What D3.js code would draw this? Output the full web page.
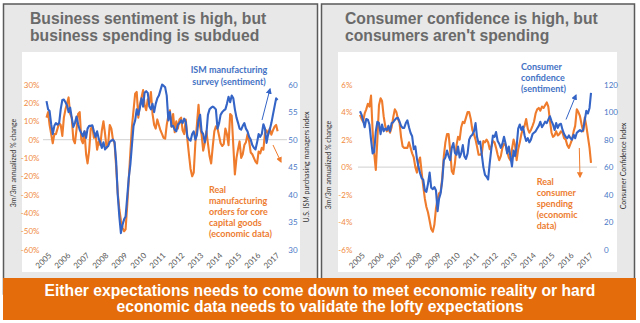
<!DOCTYPE html>
<html>
<head>
<meta charset="utf-8">
<script src="https://cdn.jsdelivr.net/npm/d3@7"></script>
<style>
  body { margin: 0; background: #fff; }
  svg { display: block; }
</style>
</head>
<body>
<div id="vis"></div>
<script>
// ---- data (monthly, Jan 2005 - Mar 2017, one row per year) ----
const years = ['2005','2006','2007','2008','2009','2010','2011','2012','2013','2014','2015','2016','2017'];

// left chart: ISM manufacturing PMI (right axis)
const ismPmi = [
  [57.0,55.5,55.2,52.8,51.0,52.5,53.0,52.7,53.0,55.5,57.2,57.3],
  [56.8,56.2,55.0,55.8,54.0,52.3,53.0,54.2,52.8,51.8,51.2,50.6],
  [51.5,50.3,52.0,52.5,52.5,52.6,51.5,50.5,51.5,50.2,49.5,48.5],
  [49.5,48.2,48.6,48.8,49.6,49.8,50.0,49.6,46.0,40.0,36.0,33.0],
  [34.5,35.5,36.0,39.5,43.0,45.5,49.0,52.5,53.5,55.5,54.5,55.8],
  [57.5,56.0,58.5,58.8,58.5,56.0,55.5,56.5,55.0,56.5,57.5,58.0],
  [59.0,60.0,59.8,59.5,58.0,53.5,55.0,52.4,52.5,51.8,51.5,52.7],
  [53.0,53.5,53.0,53.8,53.2,50.5,50.0,49.8,51.0,51.5,50.0,50.8],
  [53.5,54.5,51.5,51.0,49.5,51.0,54.5,55.5,55.8,56.0,55.8,55.5],
  [52.0,53.0,54.5,55.0,55.3,55.5,56.5,57.8,56.8,58.0,57.5,55.5],
  [54.0,53.0,52.0,51.8,52.5,53.0,52.0,51.5,50.5,50.0,49.0,48.5],
  [48.2,49.5,51.0,50.5,51.0,52.8,52.0,49.4,51.0,51.8,53.0,54.5],
  [56.0,57.5,57.2]
];

// left chart: real core capital goods orders, 3m/3m annualized % (left axis)
const coreOrders = [
  [12,15,8,3,-2,3,3,6,9,8,2,12],
  [16.5,20,23,14,12,0,-2,5.5,14,15,0,-2],
  [4.5,-8,-13,-6,6,7,1,3,-5.5,-1,-3,5],
  [10,3,-4.5,-2,8,6,0,-2,-15,-29,-38,-44],
  [-48,-50,-49,-36,-22,-7,7,16,25,26,12,19],
  [23,27,19,16,22,20,26,14,8,6,11,8],
  [5,3,1,0.5,8,13,16,7,14,4,10,6],
  [11,12,5,3,11,0,-8,-16,-20,-18,-2,8],
  [19,7,2.7,-6,-2,4.5,-2,-9,-13,-4,4.5,7.3],
  [6,2,-2,-3.5,-2.5,6,3,-3,14,13,-3.5,-19],
  [-10,-5,-1,-10,-8,-3,-1.5,3,-1,-7,-8,-10],
  [-12,-13,-6.5,-7.5,-4.5,-5.5,3.5,5,2.7,6,2.7,5],
  [7,8,4.5]
];

// right chart: consumer confidence index (right axis)
const confidence = [
  [100.6,98,94,89,95,94.5,91,80,70,71,86,93],
  [92,84,91,86,88,87,90,86,92,92.6,94.3,95.5],
  [95.8,93,90,88.5,88.5,92,94,89,84.8,82.4,73,75],
  [66,60,55.5,52,50.8,43,42,48,56,45,44,45.5],
  [43,28,37,41,50,65,67,72,68,65,74,77.5],
  [70.2,69,75,67,70,76,68,66,70,80,82.5,83.5],
  [86,92,82,77,78.5,69,60,54.4,53,51,63,73],
  [83,82,85.5,79,77,74,77,82,77,70,75,68],
  [60.5,72,68,75,88,91,87,89.5,83,79,81,78],
  [80,84,85,86,88,90,93,89,91,93,92,94.5],
  [97,93.5,91,87,92,88.5,91,91.5,87,84,82,81],
  [83,81,80,83.5,81,85,86,87,86,87,94,101],
  [99,103,114]
];

// right chart: real consumer spending, 3m/3m annualized % (left axis)
const spending = [
  [3.8,3.5,3.3,3.9,4.2,4.6,4.4,5.2,2.6,1.0,-0.2,2.0],
  [4.5,5.0,4.8,3.7,3.0,2.6,2.8,2.5,2.9,3.6,4.2,4.0],
  [3.5,3.2,2.2,1.5,1.4,1.4,1.4,1.8,1.4,1.0,0.7,0.0],
  [-0.4,0.4,0.7,-0.4,-1.4,-2.3,-2.9,-3.3,-3.9,-4.5,-4.7,-4.2],
  [-3.0,-2.3,-1.9,-1.8,-0.8,0.8,1.8,2.4,2.4,1.2,-0.3,-0.5],
  [0.3,1.6,2.2,2.0,2.9,3.3,3.2,3.6,4.0,4.0,3.5,2.7],
  [2.4,2.0,1.5,0.9,0.9,1.0,1.9,1.8,2.0,1.8,1.3,1.5],
  [1.9,1.8,1.4,0.9,0.5,0.8,1.4,1.7,1.6,1.1,0.7,0.5],
  [1.3,2.0,1.6,0.5,1.3,1.8,2.4,2.8,3.0,3.5,2.8,2.5],
  [2.7,3.0,3.3,3.9,4.2,4.3,4.1,4.4,4.3,4.5,4.7,4.4],
  [3.4,2.5,2.2,2.3,2.6,2.3,2.4,2.6,2.5,2.1,2.0,1.6],
  [1.4,1.7,2.0,2.6,3.0,4.2,4.0,3.7,3.1,2.6,3.6,3.0],
  [2.2,1.4,0.3]
];

const pctTicksLeft = [30,20,10,0,-10,-20,-30,-40,-50,-60];
const pmiTicks = [60,55,50,45,40,35,30];
const pctTicksRight = [6,4,2,0,-2,-4,-6];
const cciTicks = [120,100,80,60,40,20,0];

const titleLeft = ['Business sentiment is high, but', 'business spending is subdued'];
const titleRight = ['Consumer confidence is high, but', "consumers aren't spending"];
const banner = ['Either expectations needs to come down to meet economic reality or hard',
                'economic data needs to validate the lofty expectations'];

// ---- helpers ----
const start = new Date(2005, 0, 1);
const end = new Date(2017, 2, 1);
const months = d3.timeMonth.range(start, new Date(2017, 3, 1));
function toSeries(rows) {
  return rows.flat().map((v, i) => ({date: months[i], v: v}));
}

const ORANGE = '#ef7b2c';
const BLUE = '#3464c6';
const chartFont = 'Lato, "Open Sans", sans-serif';
const headFont = '"Liberation Sans", Arial, sans-serif';

const svg = d3.select('#vis')
  .append('svg')
  .attr('width', 640)
  .attr('height', 323);

const defs = svg.append('defs');
[['arrowBlue', BLUE], ['arrowOrange', ORANGE]].forEach(([id, c]) => {
  defs.append('marker')
    .attr('id', id)
    .attr('viewBox', '0 0 10 10')
    .attr('refX', 8).attr('refY', 5)
    .attr('markerWidth', 6).attr('markerHeight', 6)
    .attr('markerUnits', 'userSpaceOnUse')
    .attr('orient', 'auto')
    .append('path')
    .attr('d', 'M0,0 L10,5 L0,10 Z')
    .attr('fill', c);
});

// panels
svg.append('rect').attr('x', 3.5).attr('y', 4).attr('width', 314).attr('height', 290)
  .attr('fill', '#e8e8e8').attr('stroke', '#5a5a5a').attr('stroke-width', 1.5);
svg.append('rect').attr('x', 321.5).attr('y', 4).attr('width', 313).attr('height', 290)
  .attr('fill', '#e8e8e8').attr('stroke', '#5a5a5a').attr('stroke-width', 1.5);
svg.append('rect').attr('x', 22).attr('y', 52).attr('width', 278).attr('height', 220).attr('fill', '#fff');
svg.append('rect').attr('x', 338).attr('y', 52).attr('width', 279).attr('height', 220).attr('fill', '#fff');

function textLines(lines, x, y, dy, opts) {
  const t = svg.append('text')
    .attr('font-family', opts.font)
    .attr('font-size', opts.size)
    .attr('font-weight', opts.weight || 'normal')
    .attr('fill', opts.color)
    .attr('text-anchor', opts.anchor || 'start');
  lines.forEach((s, i) => {
    t.append('tspan').attr('x', x).attr('y', y + i * dy).text(s);
  });
  return t;
}

function rotatedLabel(s, x, y) {
  svg.append('text')
    .attr('transform', `translate(${x},${y}) rotate(-90)`)
    .attr('text-anchor', 'middle')
    .attr('font-family', chartFont)
    .attr('font-size', 7)
    .attr('fill', '#333')
    .text(s);
}

function drawChart(c) {
  const x = d3.scaleTime().domain([start, end]).range(c.xRange);
  const yL = d3.scaleLinear().domain(c.leftDomain).range([249.6, 84.6]);
  const yR = d3.scaleLinear().domain(c.rightDomain).range([249.6, 84.6]);

  // zero line
  svg.append('line')
    .attr('x1', c.gridX[0]).attr('x2', c.gridX[1])
    .attr('y1', yL(0)).attr('y2', yL(0))
    .attr('stroke', '#d9d9d9').attr('stroke-width', 1.3);

  // axes
  const left = svg.append('g')
    .attr('transform', `translate(${c.leftAxisX},0)`)
    .call(d3.axisLeft(yL).tickValues(c.leftTicks).tickSize(0).tickPadding(0).tickFormat(d => d + '%'));
  const right = svg.append('g')
    .attr('transform', `translate(${c.rightAxisX},0)`)
    .call(d3.axisRight(yR).tickValues(c.rightTicks).tickSize(0).tickPadding(0));
  const bottom = svg.append('g')
    .attr('transform', 'translate(0,254)')
    .call(d3.axisBottom(x).ticks(d3.timeYear.every(1)).tickFormat(d3.timeFormat('%Y')).tickSize(0));

  [left, right, bottom].forEach(g => {
    g.select('.domain').remove();
    g.selectAll('text').attr('font-family', chartFont).attr('font-size', 8);
  });
  left.selectAll('text').attr('fill', '#f08a3e');
  right.selectAll('text').attr('fill', '#4a78c6');
  bottom.selectAll('text')
    .attr('fill', '#595959')
    .attr('x', 0).attr('y', 0).attr('dy', '0.35em')
    .attr('transform', 'translate(3,0) rotate(-45)')
    .style('text-anchor', 'end');

  // lines
  svg.append('path')
    .datum(toSeries(c.leftSeries))
    .attr('fill', 'none').attr('stroke', ORANGE).attr('stroke-width', 2.1)
    .attr('stroke-linejoin', 'round')
    .attr('d', d3.line().x(d => x(d.date)).y(d => yL(d.v)));
  svg.append('path')
    .datum(toSeries(c.rightSeries))
    .attr('fill', 'none').attr('stroke', BLUE).attr('stroke-width', 2.1)
    .attr('stroke-linejoin', 'round')
    .attr('d', d3.line().x(d => x(d.date)).y(d => yR(d.v)));

  // arrows
  c.arrows.forEach(a => {
    svg.append('line')
      .attr('x1', a[0]).attr('y1', a[1]).attr('x2', a[2]).attr('y2', a[3])
      .attr('stroke', a[4] === 'b' ? BLUE : ORANGE).attr('stroke-width', 1)
      .attr('marker-end', a[4] === 'b' ? 'url(#arrowBlue)' : 'url(#arrowOrange)');
  });
}

// titles
textLines(titleLeft, 30, 24, 17, {font: headFont, size: 15.7, weight: 'bold', color: '#6a6a6a'});
textLines(titleRight, 345, 24, 17, {font: headFont, size: 15.7, weight: 'bold', color: '#6a6a6a'});

// left chart
drawChart({
  xRange: [46.5, 277.6],
  gridX: [43, 287],
  leftDomain: [-60, 30], rightDomain: [30, 60],
  leftTicks: pctTicksLeft, rightTicks: pmiTicks,
  leftAxisX: 39.5, rightAxisX: 288.3,
  leftSeries: coreOrders, rightSeries: ismPmi,
  arrows: [[262, 120, 270, 89, 'b'], [273, 145, 281, 162, 'o']]
});
rotatedLabel('3m/3m annualized % change', 15.5, 163);
rotatedLabel('U.S. ISM purchasing managers index', 308.5, 167);
textLines(['ISM manufacturing', 'survey (sentiment)'], 229, 73, 11.7,
  {font: chartFont, size: 9, weight: 'bold', color: '#4472c4', anchor: 'middle'});
textLines(['Real', 'manufacturing', 'orders for core', 'capital goods', '(economic data)'], 209, 192.5, 11.2,
  {font: chartFont, size: 9, weight: 'bold', color: '#ed7d31'});

// right chart
drawChart({
  xRange: [360, 591],
  gridX: [358, 597],
  leftDomain: [-6, 6], rightDomain: [0, 120],
  leftTicks: pctTicksRight, rightTicks: cciTicks,
  leftAxisX: 352.3, rightAxisX: 604,
  leftSeries: spending, rightSeries: confidence,
  arrows: [[566, 119.5, 576, 95, 'b'], [579.3, 148, 580, 177, 'o']]
});
rotatedLabel('3m/3m annualized % change', 330.5, 165);
rotatedLabel('Consumer Confidence Index', 625.5, 166);
textLines(['Consumer', 'confidence', '(sentiment)'], 521, 70.3, 11,
  {font: chartFont, size: 9, weight: 'bold', color: '#4472c4'});
textLines(['Real', 'consumer', 'spending', '(economic', 'data)'], 536.7, 184.7, 11,
  {font: chartFont, size: 9, weight: 'bold', color: '#ed7d31'});

// banner
svg.append('rect').attr('x', 3).attr('y', 278).attr('width', 633).attr('height', 42).attr('fill', '#e46c0a');
textLines(banner, 320, 296, 16.3, {font: headFont, size: 15.7, weight: 'bold', color: '#fff', anchor: 'middle'});
</script>
</body>
</html>
